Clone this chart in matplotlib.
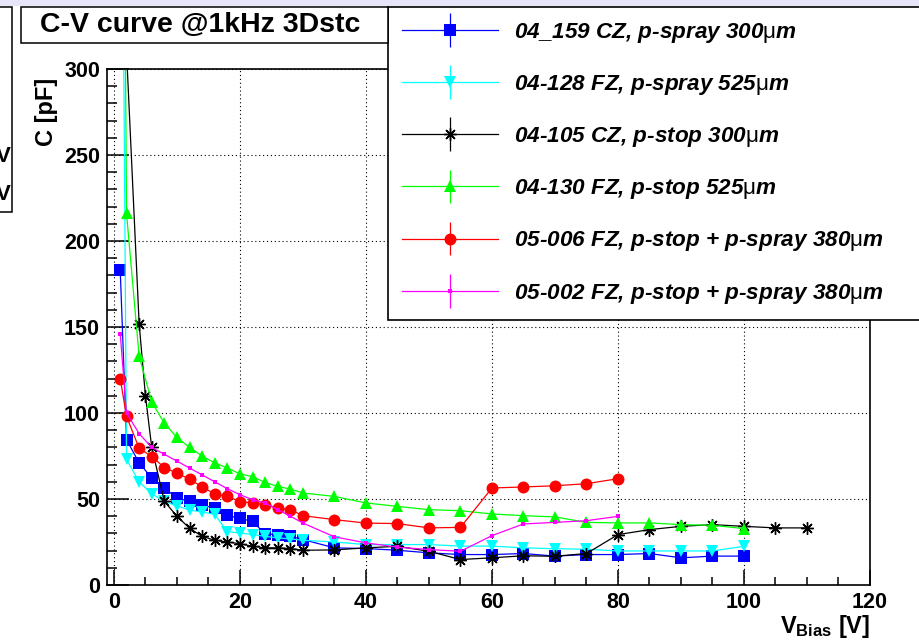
import matplotlib
matplotlib.use("Agg")
import matplotlib.pyplot as plt
from matplotlib.patches import Rectangle
from matplotlib.container import ErrorbarContainer
from matplotlib.legend_handler import HandlerErrorbar
import numpy as np

plt.rcParams['font.family'] = ['Liberation Sans', 'DejaVu Sans']
plt.rcParams['mathtext.fontset'] = 'custom'
plt.rcParams['mathtext.rm'] = 'Liberation Sans'
plt.rcParams['mathtext.bf'] = 'Liberation Sans:bold'
plt.rcParams['mathtext.it'] = 'Liberation Sans:italic'

# ---- data: bias voltage [V] and capacitance [pF] ----
v_long = [1, 2, 4, 6, 8, 10, 12, 14, 16, 18, 20, 22, 24, 26, 28, 30,
          35, 40, 45, 50, 55, 60, 65, 70, 75, 80, 85, 90, 95, 100]
c_04_159 = [183, 84.5, 71, 62.2, 56.4, 50.6, 48.6, 46.3, 44.8, 40.5, 38.7, 37,
            29.7, 29.3, 28.3, 26.4, 21.6, 21.2, 20.2, 18.7, 17.7, 17.7, 18.3,
            16.8, 17.7, 17.7, 18.3, 15.8, 16.8, 16.8]
c_04_128 = [600, 73, 60, 53, 48.6, 46, 43.5, 42.5, 41, 31, 30.3, 29.3, 28.3,
            27.4, 26.8, 26, 25, 23.5, 23.5, 23.5, 22.6, 22.6, 21.6, 21.1, 20.8,
            19.8, 19.8, 19.8, 19.8, 22.5]
c_04_130 = [750, 216, 133, 106.5, 94, 85.8, 80, 75, 71, 68, 64.6, 63, 59.6,
            57.3, 55.8, 53.5, 51.5, 47.7, 45.7, 43.8, 43.2, 41.3, 40.3, 39.6,
            36.4, 36.1, 36.1, 35.1, 34.7, 32.8]

v_04_105 = [2, 4, 5, 6, 8, 10, 12, 14, 16, 18, 20, 22, 24, 26, 28, 30, 35, 40,
            45, 50, 55, 60, 65, 70, 75, 80, 85, 90, 95, 100, 105, 110]
c_04_105 = [310, 152, 110, 80, 48.6, 40, 33, 28.3, 26, 25, 24, 22.5, 21.6,
            21.6, 21.2, 20.2, 20.4, 21.6, 22.5, 19.6, 14.8, 15.8, 17, 16.7,
            18.3, 29.3, 32.2, 34.1, 35.1, 34.1, 33.2, 33.2]

v_short = [1, 2, 4, 6, 8, 10, 12, 14, 16, 18, 20, 22, 24, 26, 28, 30, 35, 40,
           45, 50, 55, 60, 65, 70, 75, 80]
c_05_006 = [120, 98, 79.5, 74.7, 68.3, 65, 61.6, 57, 53, 51.5, 48.5, 47.7,
            46.7, 44.8, 43.8, 40.3, 38, 36, 35.7, 33.2, 33.5, 56.4, 57, 57.7,
            58.9, 61.8]
c_05_002 = [146, 100, 88, 80, 76, 72, 68, 64, 60, 56, 52.5, 49.6, 47.7, 43.8,
            40, 36, 28, 24.5, 22, 20.6, 19.6, 28.7, 35.5, 36.4, 37.4, 39.9]

labels = [
    r"04_159 CZ, p-spray 300$\mathrm{\mu}$m",
    r"04-128 FZ, p-spray 525$\mathrm{\mu}$m",
    r"04-105 CZ, p-stop 300$\mathrm{\mu}$m",
    r"04-130 FZ, p-stop 525$\mathrm{\mu}$m",
    r"05-006 FZ, p-stop + p-spray 380$\mathrm{\mu}$m",
    r"05-002 FZ, p-stop + p-spray 380$\mathrm{\mu}$m",
]

series = [
    (v_long, c_04_159, '#0000ff', 's', 8.0),
    (v_long, c_04_128, '#00ffff', 'v', 9.0),
    (v_04_105, c_04_105, '#000000', (8, 2, 0), 9.0),
    (v_long, c_04_130, '#00ff00', '^', 8.0),
    (v_short, c_05_006, '#ff0000', 'o', 8.6),
    (v_short, c_05_002, '#ff00ff', 's', 3.2),
]

W, H = 920, 642
fig = plt.figure(figsize=(W / 100, H / 100), dpi=100)
fig.patch.set_facecolor('white')

# strip along the top of the canvas
fig.patches.append(Rectangle((0, 1 - 6 / H), 1, 6 / H, transform=fig.transFigure,
                             facecolor='#e6e6f8', edgecolor='none', zorder=0))

ax = fig.add_axes([107 / W, 1 - 585 / H, (870 - 107) / W, (585 - 69) / H])

handles = []
for (vx, cy, col, mk, ms), lab in zip(series, labels):
    cont = ax.errorbar(vx, cy, yerr=np.zeros(len(cy)), color=col, lw=0.9,
                       marker=mk, ms=ms, mfc=col, mec=col,
                       mew=1.0 if isinstance(mk, tuple) else 0.0,
                       elinewidth=0.9, capsize=0, label=lab, clip_on=True)
    if isinstance(mk, tuple):
        # small filled dot in the middle of the asterisk
        ax.plot(vx, cy, ls='none', marker='o', ms=2.5, color=col, mew=0)
    handles.append(cont)

ax.set_xlim(-1.1, 120)
ax.set_ylim(0, 300)
ax.set_xticks(np.arange(0, 121, 20))
ax.set_yticks(np.arange(0, 301, 50))
ax.set_xticks(np.arange(0, 121, 5), minor=True)
ax.set_yticks(np.arange(0, 301, 10), minor=True)
ax.grid(True, which='major', color='black', lw=0.8, ls=(0, (1, 2.5)))
ax.set_axisbelow(True)

for s in ax.spines.values():
    s.set_linewidth(1.2)
ax.tick_params(which='both', direction='in', top=False, right=False, width=1.1)
ax.tick_params(axis='x', which='major', length=11, pad=5, labelsize=15.5)
ax.tick_params(axis='x', which='minor', length=5.5)
ax.tick_params(axis='y', which='major', length=16, pad=5, labelsize=15.5)
ax.tick_params(axis='y', which='minor', length=7)
for t in ax.get_xticklabels() + ax.get_yticklabels():
    t.set_fontweight('bold')

fig.text(47 / W, 1 - 78 / H, 'C [pF]', rotation=90, ha='center', va='top',
         fontsize=17, fontweight='bold')
fig.text(870 / W, 1 - 640 / H, r"V$_{\mathbf{Bias}}$ [V]", ha='right',
         va='bottom', fontsize=17, fontweight='bold')

# title box
fig.patches.append(Rectangle((21 / W, 1 - 43 / H), (388 - 21) / W, 36 / H,
                             transform=fig.transFigure, facecolor='white',
                             edgecolor='black', lw=1.1, zorder=3))
fig.text(200 / W, 1 - 25 / H, 'C-V curve @1kHz 3Dstc', ha='center',
         va='center', fontsize=20.5, fontweight='bold', zorder=4)

# neighbouring pad on the left edge
fig.patches.append(Rectangle((-20 / W, 1 - 212 / H), 32 / W, 205 / H,
                             transform=fig.transFigure, facecolor='white',
                             edgecolor='black', lw=1.1, zorder=3))
for yy in (157, 195):
    fig.text(11 / W, 1 - yy / H, 'V', ha='right', va='center', fontsize=16,
             fontweight='bold', zorder=4)

leg = ax.legend(handles=handles, labels=labels, loc='upper left',
                bbox_to_anchor=(388 / W, 1 - 318 / H, 580 / W, (318 - 7) / H),
                bbox_transform=fig.transFigure, mode='expand',
                borderaxespad=0, borderpad=0.62, labelspacing=1.25,
                handlelength=4.25, handletextpad=0.75, fancybox=False,
                framealpha=1, edgecolor='black',
                prop={'size': 16.2, 'weight': 'bold', 'style': 'italic'},
                handler_map={ErrorbarContainer: HandlerErrorbar(xerr_size=0.75)})
leg.get_frame().set_linewidth(1.2)
leg.set_zorder(6)

fig.savefig('out.png', dpi=100, facecolor='white')
